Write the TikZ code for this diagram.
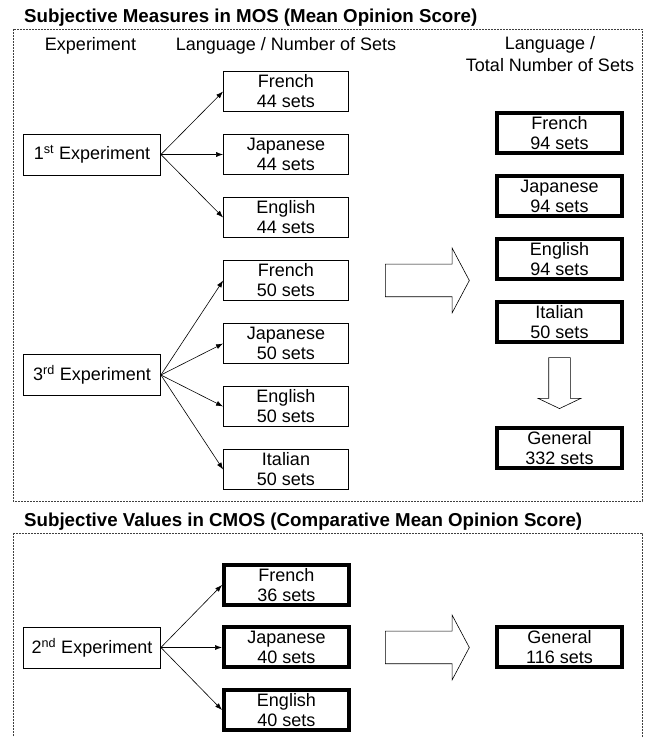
\documentclass[tikz,border=0pt]{standalone}
\usepackage{fontspec}
\setmainfont{Liberation Sans}
\usetikzlibrary{positioning,shapes.arrows,arrows.meta}

\tikzstyle{thinBox} = [rectangle, draw, line width=0.8pt, minimum width=125pt, minimum height=40pt, inner sep=0pt, align=center, font={\fontsize{18}{20}\selectfont}]
\tikzstyle{thickBox} = [thinBox, line width=4pt]
\tikzstyle{expBox} = [thinBox, minimum width=137pt, minimum height=41pt]
\tikzstyle{header} = [align=center, font={\fontsize{18}{22}\selectfont}]
\tikzstyle{sectionTitle} = [anchor=base west, inner sep=0pt, font={\fontsize{18.7}{22}\selectfont\bfseries}]
\tikzstyle{dashFrame} = [draw=black!75, line width=0.6pt, dash pattern=on 2pt off 1pt]
\tikzstyle{bigArrow} = [single arrow, draw, line width=0.6pt, single arrow head extend=16pt, single arrow tip angle=124, minimum height=84pt, inner xsep=0pt, inner ysep=16pt]
\tikzstyle{link} = [-{Latex[length=7pt,width=5pt]}, line width=0.6pt]

\begin{document}
\begin{tikzpicture}
    \fill[white] (0,0) rectangle (645pt,737pt);
    \useasboundingbox (0,0) rectangle (645pt,737pt);
    % MOS part
    \draw[dashFrame] (13pt,708pt) rectangle (642pt,236pt);
    \node[sectionTitle] (mosTitle) at (24pt,714pt) {Subjective Measures in MOS (Mean Opinion Score)};
    \node[header, anchor=base] (hExp) at (90.5pt,686pt) {Experiment};
    \node[header, anchor=base] (hLang) at (286pt,686pt) {Language / Number of Sets};
    \node[header] (hTotal) at (550pt,682.6pt) {Language /\\Total Number of Sets};

    \node[thinBox] (fr44) at (286pt,645.5pt) {French\\44 sets};
    \node[thinBox, below of=fr44, node distance=63pt] (jp44) {Japanese\\44 sets};
    \node[thinBox, below of=jp44, node distance=63pt] (en44) {English\\44 sets};
    \node[thinBox, below of=en44, node distance=63pt] (fr50) {French\\50 sets};
    \node[thinBox, below of=fr50, node distance=63pt] (jp50) {Japanese\\50 sets};
    \node[thinBox, below of=jp50, node distance=63pt] (en50) {English\\50 sets};
    \node[thinBox, below of=en50, node distance=63pt] (it50) {Italian\\50 sets};
    \node[expBox, left of=jp44, node distance=194pt] (exp1) {1\textsuperscript{st} Experiment};
    \node[expBox, left of=jp50, node distance=194pt, yshift=-31.5pt] (exp3) {3\textsuperscript{rd} Experiment};
    \foreach \lang in {fr44,jp44,en44}
        \draw[link] (exp1.east) -- (\lang.west);
    \foreach \lang in {fr50,jp50,en50,it50}
        \draw[link] (exp3.east) -- (\lang.west);

    \node[bigArrow, right of=fr50, node distance=137pt] (toTotal) {};
    \node[thickBox] (fr94) at (559.5pt,603.5pt) {French\\94 sets};
    \node[thickBox, below of=fr94, node distance=63pt] (jp94) {Japanese\\94 sets};
    \node[thickBox, below of=jp94, node distance=63pt] (en94) {English\\94 sets};
    \node[thickBox, below of=en94, node distance=63pt] (it94) {Italian\\50 sets};
    \node[bigArrow, shape border rotate=270, minimum height=51pt, single arrow head extend=10.5pt, inner sep=10.5pt, single arrow tip angle=129, below of=it94, node distance=58pt] (toGeneral) {};
    \node[thickBox, below of=it94, node distance=126pt] (gen332) {General\\332 sets};

    % CMOS part
    \draw[dashFrame] (13pt,204pt) rectangle (642pt,-20pt);
    \node[sectionTitle] (cmosTitle) at (24pt,210pt) {Subjective Values in CMOS (Comparative Mean Opinion Score)};
    \node[thickBox] (fr36) at (286.5pt,152pt) {French\\36 sets};
    \node[thickBox, below of=fr36, node distance=62.5pt] (jp40) {Japanese\\40 sets};
    \node[thickBox, below of=jp40, node distance=62.5pt] (en40) {English\\40 sets};
    \node[expBox, left of=jp40, node distance=194.5pt] (exp2) {2\textsuperscript{nd} Experiment};
    \foreach \lang in {fr36,jp40,en40}
        \draw[link] (exp2.east) -- (\lang.west);
    \node[bigArrow, right of=jp40, node distance=136.5pt] (toCmos) {};
    \node[thickBox, right of=jp40, node distance=273pt] (gen116) {General\\116 sets};
\end{tikzpicture}
\end{document}
